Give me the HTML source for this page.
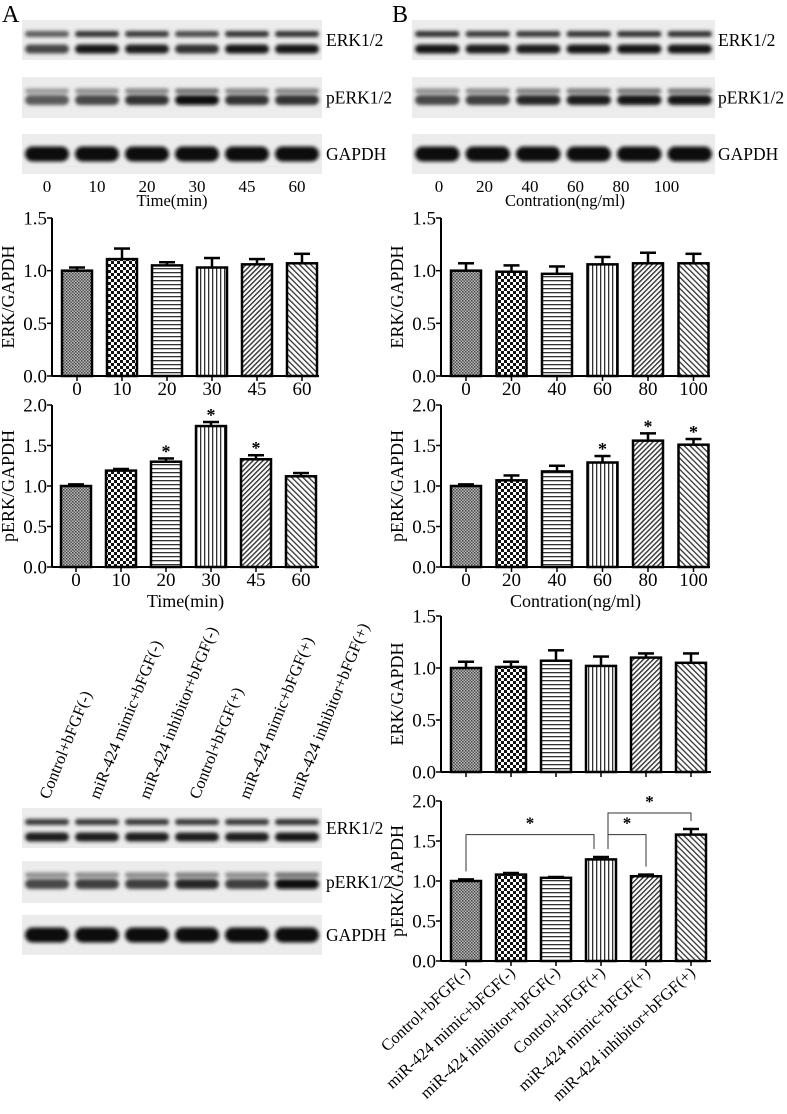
<!DOCTYPE html>
<html><head><meta charset="utf-8"><style>
body{margin:0;background:#fff;}
svg{display:block;font-family:"Liberation Serif",serif;}
</style></head><body>
<svg id="fig" width="787" height="1114" viewBox="0 0 787 1114" xmlns="http://www.w3.org/2000/svg">
<defs>
<pattern id="p0" width="3" height="3" patternUnits="userSpaceOnUse"><rect width="3" height="3" fill="#bbb"/><rect width="1.5" height="1.5" fill="#444"/><rect x="1.5" y="1.5" width="1.5" height="1.5" fill="#555"/></pattern>
<pattern id="p1" width="6" height="6" patternUnits="userSpaceOnUse"><rect width="6" height="6" fill="#fff"/><rect width="3" height="3" fill="#111"/><rect x="3" y="3" width="3" height="3" fill="#111"/></pattern>
<pattern id="p2" width="4" height="4" patternUnits="userSpaceOnUse"><rect width="4" height="4" fill="#fff"/><rect width="4" height="1.3" fill="#333"/></pattern>
<pattern id="p3" width="4" height="4" patternUnits="userSpaceOnUse"><rect width="4" height="4" fill="#fff"/><rect width="1.3" height="4" fill="#333"/></pattern>
<pattern id="p4" width="3.5" height="3.5" patternUnits="userSpaceOnUse" patternTransform="rotate(45)"><rect width="3.5" height="3.5" fill="#fff"/><rect width="1.4" height="3.5" fill="#333"/></pattern>
<pattern id="p5" width="4" height="4" patternUnits="userSpaceOnUse" patternTransform="rotate(-45)"><rect width="4" height="4" fill="#fff"/><rect width="1.3" height="4" fill="#333"/></pattern>
<filter id="blur" x="-20%" y="-50%" width="140%" height="200%"><feGaussianBlur stdDeviation="1.8"/></filter>
</defs>
<text x="2" y="22" font-size="24">A</text>
<text x="392" y="22" font-size="24">B</text>
</svg>
<script>
// ---- data ----
const timeCats = ["0","10","20","30","45","60"];
const concCats = ["0","20","40","60","80","100"];
const groupCats = ["Control+bFGF(-)","miR-424 mimic+bFGF(-)","miR-424 inhibitor+bFGF(-)","Control+bFGF(+)","miR-424 mimic+bFGF(+)","miR-424 inhibitor+bFGF(+)"];
const aErk = [1.00,1.11,1.05,1.03,1.06,1.07];
const aErkSd = [0.03,0.10,0.03,0.09,0.05,0.09];
const aPerk = [1.00,1.19,1.30,1.74,1.33,1.12];
const aPerkSd = [0.02,0.02,0.04,0.05,0.05,0.04];
const aPerkStar = [0,0,1,1,1,0];
const bErk = [1.00,0.99,0.97,1.06,1.07,1.07];
const bErkSd = [0.07,0.06,0.07,0.07,0.10,0.09];
const bPerk = [1.00,1.07,1.18,1.29,1.56,1.51];
const bPerkSd = [0.02,0.06,0.07,0.08,0.09,0.07];
const bPerkStar = [0,0,0,1,1,1];
const cErk = [1.00,1.01,1.07,1.02,1.10,1.05];
const cErkSd = [0.06,0.05,0.10,0.09,0.04,0.09];
const cPerk = [1.00,1.08,1.04,1.27,1.06,1.58];
const cPerkSd = [0.02,0.02,0.01,0.03,0.02,0.07];
const erkTicks = ["0.0","0.5","1.0","1.5"];
const perkTicks = ["0.0","0.5","1.0","1.5","2.0"];
// blot intensities per lane (0-1)
const blotAErk = [0.7,0.95,0.9,0.8,0.95,0.95];
const blotAPerk = [0.6,0.7,0.8,1.0,0.8,0.8];
const blotBErk = [0.95,0.9,0.9,0.95,0.95,0.95];
const blotBPerk = [0.7,0.75,0.85,0.9,0.95,0.95];
const blotCErk = [0.9,0.9,0.9,0.9,0.9,0.95];
const blotCPerk = [0.7,0.75,0.75,0.85,0.75,1.0];

const NS="http://www.w3.org/2000/svg";
const svg=document.getElementById('fig');
function el(tag,attrs,parent){const e=document.createElementNS(NS,tag);for(const k in attrs)e.setAttribute(k,attrs[k]);(parent||svg).appendChild(e);return e;}
function txt(x,y,s,size,anchor,parent,extra){const t=el('text',Object.assign({x:x,y:y,'font-size':size,'text-anchor':anchor||'middle'},extra||{}),parent);t.textContent=s;return t;}

function chart(o){
  const g=el('g',{});
  
  
  const ymax=o.ymax;
  const yS=v=>o.y0-(v/ymax)*(o.y0-o.y1);
  const step=(o.xCenters[1]-o.xCenters[0]);
  const xS=i=>o.xCenters[0]+i*step;
  const ax=el('line',{x1:o.ax,y1:o.y1,x2:o.ax,y2:o.y0,stroke:'#000','stroke-width':2},g);
  
  
  const bx=el('line',{x1:o.ax,y1:o.y0,x2:o.axEnd,y2:o.y0,stroke:'#000','stroke-width':2},g);
  
  
  o.ticks.forEach(t=>{const v=parseFloat(t),y=yS(v);
    el('line',{x1:o.ax-5,y1:y,x2:o.ax,y2:y,stroke:'#000','stroke-width':1.5},g);
    const tl=txt(o.ax-5,y+6.5,t,19,'end',g);
    
    
  });
  const yl=txt(0,0,o.ylabel,18,'middle',g,{transform:`translate(${o.ax-38},${(o.y0+o.y1)/2}) rotate(-90)`});
  
  
  o.vals.forEach((v,i)=>{
    const cx=xS(i),w=30,top=yS(v);
    const r=el('rect',{x:cx-w/2,y:top,width:w,height:o.y0-top,fill:`url(#p${i})`,stroke:'#000','stroke-width':2.5},g);
    
    
    const e=yS(v+o.sd[i]);
    el('line',{x1:cx,y1:top,x2:cx,y2:e,stroke:'#000','stroke-width':2.5},g);
    el('line',{x1:cx-8,y1:e,x2:cx+8,y2:e,stroke:'#000','stroke-width':2.5},g);
    el('line',{x1:cx,y1:o.y0,x2:cx,y2:o.y0+5,stroke:'#000','stroke-width':1.5},g);
    if(o.stars&&o.stars[i]){const s=txt(cx,e-1,'*',18,'middle',g,{'font-weight':'bold'});
      
      }
    if(o.rotLabels){const t=txt(0,0,o.cats[i],16.5,'end',g,{transform:`translate(${cx+5},${o.y0+13}) rotate(-43)`});
      
      }
    else if(o.showX){const t=txt(cx,o.y0+19,o.cats[i],19,'middle',g);
      
      }
  });
  if(o.xlabel){const t=txt((o.ax+o.axEnd)/2,o.y0+40,o.xlabel,18,'middle',g);
    
    }
  return {g,xS,yS};
}

function blot(o){
  const g=el('g',{});
  
  
  el('rect',{x:o.x,y:o.y,width:o.w,height:o.h,fill:'#ececec'},g);
  const bg=el('g',{filter:'url(#blur)'},g);
  const lw=o.w/6;
  o.int.forEach((k,i)=>{
    const cx=o.x+lw*(i+0.5);
    o.bands.forEach(b=>{
      const d=Math.round(210-(210-10)*k*b.s);
      el('rect',{x:cx-lw*0.44,y:o.y+b.dy-b.h/2,width:lw*0.88,height:b.h,rx:b.h/2,fill:`rgb(${d},${d},${d})`},bg);
    });
  });
  const t=txt(o.lx,o.y+o.h/2+6,o.label,17.5,'start',g);
  
  
}
const erkB=[{dy:14,h:6,s:0.85},{dy:29,h:9,s:1}];
const perkB=[{dy:14,h:5,s:0.5},{dy:23,h:10,s:1}];
const gapB=[{dy:20,h:15,s:1}];
const gap=[1,1,1,1,1,1];
blot({name:'blot-a-erk',x:22,y:20,w:300,h:40,int:blotAErk,bands:erkB,lx:326,label:'ERK1/2'});
blot({name:'blot-a-perk',x:22,y:77,w:300,h:41,int:blotAPerk,bands:perkB,lx:326,label:'pERK1/2'});
blot({name:'blot-a-gapdh',x:22,y:134,w:300,h:40,int:gap,bands:gapB,lx:326,label:'GAPDH'});
timeCats.forEach((c,i)=>{const t=txt(22+50*(i+0.5),192,c,17);
  
  });
{const t=txt(172,206,'Time(min)',16.5);}
blot({name:'blot-b-erk',x:412,y:20,w:303,h:40,int:blotBErk,bands:erkB,lx:718,label:'ERK1/2'});
blot({name:'blot-b-perk',x:412,y:77,w:303,h:41,int:blotBPerk,bands:perkB,lx:718,label:'pERK1/2'});
blot({name:'blot-b-gapdh',x:412,y:134,w:303,h:40,int:gap,bands:gapB,lx:718,label:'GAPDH'});
concCats.forEach((c,i)=>{const t=txt(414+45.5*i+25,192,c,17);
  
  });
{const t=txt(565,206,'Contration(ng/ml)',16.5);}
blot({name:'blot-c-erk',x:22,y:808,w:300,h:40,int:blotCErk,bands:erkB,lx:326,label:'ERK1/2'});
blot({name:'blot-c-perk',x:22,y:861,w:300,h:42,int:blotCPerk,bands:perkB,lx:326,label:'pERK1/2'});
blot({name:'blot-c-gapdh',x:22,y:915,w:300,h:40,int:gap,bands:gapB,lx:326,label:'GAPDH'});
groupCats.forEach((c,i)=>{const cx=22+50*(i+0.5);
  const t=txt(0,0,c,16.5,'start',null,{transform:`translate(${cx+2},${800}) rotate(-68)`});
  
  });

chart({name:'chart-a-erk',cats:timeCats,vals:aErk,sd:aErkSd,ymax:1.5,ticks:erkTicks,ylabel:'ERK/GAPDH',ax:52,axEnd:319,y0:376,y1:218,xCenters:[77,122],showX:true});
chart({name:'chart-a-perk',cats:timeCats,vals:aPerk,sd:aPerkSd,stars:aPerkStar,ymax:2.0,ticks:perkTicks,ylabel:'pERK/GAPDH',ax:52,axEnd:319,y0:567,y1:405,xCenters:[76,121],showX:true,xlabel:'Time(min)'});
chart({name:'chart-b-erk',cats:concCats,vals:bErk,sd:bErkSd,ymax:1.5,ticks:erkTicks,ylabel:'ERK/GAPDH',ax:441,axEnd:710,y0:376,y1:218,xCenters:[466,511.5],showX:true});
chart({name:'chart-b-perk',cats:concCats,vals:bPerk,sd:bPerkSd,stars:bPerkStar,ymax:2.0,ticks:perkTicks,ylabel:'pERK/GAPDH',ax:441,axEnd:710,y0:567,y1:405,xCenters:[466,511.5],showX:true,xlabel:'Contration(ng/ml)'});
chart({name:'chart-c-erk',cats:groupCats,vals:cErk,sd:cErkSd,ymax:1.5,ticks:erkTicks,ylabel:'ERK/GAPDH',ax:441,axEnd:711,y0:772,y1:616,xCenters:[466,511]});
const c=chart({name:'chart-c-perk',cats:groupCats,vals:cPerk,sd:cPerkSd,ymax:2.0,ticks:perkTicks,ylabel:'pERK/GAPDH',ax:441,axEnd:711,y0:961,y1:801,xCenters:[466,511],rotLabels:true});
function bracket(i,j,yv,side){
  const g=el('g',{});
  
  
  const y=c.yS(yv);
  const x1=c.xS(i)+(side===1?7:0), x2=c.xS(j)-(side===2?7:0);
  const y1=c.yS(cPerk[i]+cPerkSd[i])-8, y2=c.yS(cPerk[j]+cPerkSd[j])-8;
  el('path',{d:`M${x1},${y1} V${y} H${x2} V${y2}`,fill:'none',stroke:'#333','stroke-width':1},g);
  txt((x1+x2)/2,y-6,'*',17,'middle',g,{'font-weight':'bold'});
}
bracket(0,3,1.58,2);
bracket(3,4,1.58,1);
bracket(3,5,1.85,1);
</script>
</body></html>
